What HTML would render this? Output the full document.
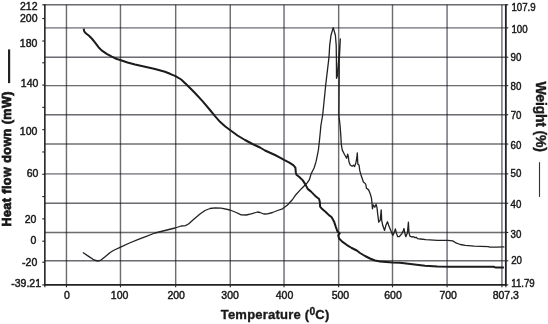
<!DOCTYPE html>
<html><head><meta charset="utf-8"><title>Chart</title>
<style>
html,body{margin:0;padding:0;background:#fff;}
svg{display:block;font-family:"Liberation Sans",Arial,sans-serif;}
</style></head><body>
<svg width="548" height="324" viewBox="0 0 548 324">
<defs><filter id="soft" x="0" y="0" width="548" height="324" filterUnits="userSpaceOnUse"><feGaussianBlur stdDeviation="0.38"/></filter></defs>
<rect x="0" y="0" width="548" height="324" fill="#fff"/>
<g filter="url(#soft)">
<line x1="66.46" y1="4.8" x2="66.46" y2="284.9" stroke="#101014" stroke-opacity="0.62" stroke-width="1.4"/>
<line x1="120.47" y1="4.8" x2="120.47" y2="284.9" stroke="#101014" stroke-opacity="0.62" stroke-width="1.4"/>
<line x1="175.67" y1="4.8" x2="175.67" y2="284.9" stroke="#101014" stroke-opacity="0.62" stroke-width="1.4"/>
<line x1="230.27" y1="4.8" x2="230.27" y2="284.9" stroke="#101014" stroke-opacity="0.62" stroke-width="1.4"/>
<line x1="284.00" y1="4.8" x2="284.00" y2="284.9" stroke="#101014" stroke-opacity="0.62" stroke-width="1.4"/>
<line x1="338.65" y1="4.8" x2="338.65" y2="284.9" stroke="#101014" stroke-opacity="0.62" stroke-width="1.4"/>
<line x1="392.50" y1="4.8" x2="392.50" y2="284.9" stroke="#101014" stroke-opacity="0.62" stroke-width="1.4"/>
<line x1="447.10" y1="4.8" x2="447.10" y2="284.9" stroke="#101014" stroke-opacity="0.62" stroke-width="1.4"/>
<line x1="501.90" y1="4.8" x2="501.90" y2="284.9" stroke="#101014" stroke-opacity="0.62" stroke-width="1.4"/>
<line x1="44.85" y1="27.83" x2="505.85" y2="27.83" stroke="#101014" stroke-opacity="0.62" stroke-width="1.4"/>
<line x1="44.85" y1="57.2" x2="505.85" y2="57.2" stroke="#101014" stroke-opacity="0.62" stroke-width="1.4"/>
<line x1="44.85" y1="85.65" x2="505.85" y2="85.65" stroke="#101014" stroke-opacity="0.62" stroke-width="1.4"/>
<line x1="44.85" y1="114.74" x2="505.85" y2="114.74" stroke="#101014" stroke-opacity="0.62" stroke-width="1.4"/>
<line x1="44.85" y1="144.05" x2="505.85" y2="144.05" stroke="#101014" stroke-opacity="0.62" stroke-width="1.4"/>
<line x1="44.85" y1="173.9" x2="505.85" y2="173.9" stroke="#101014" stroke-opacity="0.62" stroke-width="1.4"/>
<line x1="44.85" y1="203.26" x2="505.85" y2="203.26" stroke="#101014" stroke-opacity="0.62" stroke-width="1.4"/>
<line x1="44.85" y1="232.44" x2="505.85" y2="232.44" stroke="#101014" stroke-opacity="0.62" stroke-width="1.4"/>
<line x1="44.85" y1="260.8" x2="505.85" y2="260.8" stroke="#101014" stroke-opacity="0.62" stroke-width="1.4"/>
<line x1="44.85" y1="4.8" x2="505.85" y2="4.8" stroke="#101014" stroke-opacity="0.62" stroke-width="1.4"/>
<line x1="44.85" y1="4.3" x2="44.85" y2="285.59999999999997" stroke="#222" stroke-width="1.6"/>
<line x1="505.85" y1="4.3" x2="505.85" y2="285.59999999999997" stroke="#222" stroke-width="1.8"/>
<line x1="44.15" y1="284.9" x2="506.55" y2="284.9" stroke="#222" stroke-width="1.6"/>
<line x1="42.25" y1="4.80" x2="44.85" y2="4.80" stroke="#222" stroke-width="1.1"/>
<line x1="42.25" y1="18.50" x2="44.85" y2="18.50" stroke="#222" stroke-width="1.1"/>
<line x1="42.25" y1="41.00" x2="44.85" y2="41.00" stroke="#222" stroke-width="1.1"/>
<line x1="42.25" y1="62.78" x2="44.85" y2="62.78" stroke="#222" stroke-width="1.1"/>
<line x1="42.25" y1="85.08" x2="44.85" y2="85.08" stroke="#222" stroke-width="1.1"/>
<line x1="42.25" y1="107.38" x2="44.85" y2="107.38" stroke="#222" stroke-width="1.1"/>
<line x1="42.25" y1="129.68" x2="44.85" y2="129.68" stroke="#222" stroke-width="1.1"/>
<line x1="42.25" y1="151.98" x2="44.85" y2="151.98" stroke="#222" stroke-width="1.1"/>
<line x1="42.25" y1="174.28" x2="44.85" y2="174.28" stroke="#222" stroke-width="1.1"/>
<line x1="42.25" y1="196.58" x2="44.85" y2="196.58" stroke="#222" stroke-width="1.1"/>
<line x1="42.25" y1="218.88" x2="44.85" y2="218.88" stroke="#222" stroke-width="1.1"/>
<line x1="42.25" y1="241.18" x2="44.85" y2="241.18" stroke="#222" stroke-width="1.1"/>
<line x1="42.25" y1="262.20" x2="44.85" y2="262.20" stroke="#222" stroke-width="1.1"/>
<line x1="42.25" y1="284.90" x2="44.85" y2="284.90" stroke="#222" stroke-width="1.1"/>
<line x1="505.85" y1="4.80" x2="508.25" y2="4.80" stroke="#222" stroke-width="1.1"/>
<line x1="505.85" y1="27.83" x2="508.25" y2="27.83" stroke="#222" stroke-width="1.1"/>
<line x1="505.85" y1="57.20" x2="508.25" y2="57.20" stroke="#222" stroke-width="1.1"/>
<line x1="505.85" y1="85.65" x2="508.25" y2="85.65" stroke="#222" stroke-width="1.1"/>
<line x1="505.85" y1="114.74" x2="508.25" y2="114.74" stroke="#222" stroke-width="1.1"/>
<line x1="505.85" y1="144.05" x2="508.25" y2="144.05" stroke="#222" stroke-width="1.1"/>
<line x1="505.85" y1="173.90" x2="508.25" y2="173.90" stroke="#222" stroke-width="1.1"/>
<line x1="505.85" y1="203.26" x2="508.25" y2="203.26" stroke="#222" stroke-width="1.1"/>
<line x1="505.85" y1="232.44" x2="508.25" y2="232.44" stroke="#222" stroke-width="1.1"/>
<line x1="505.85" y1="260.80" x2="508.25" y2="260.80" stroke="#222" stroke-width="1.1"/>
<line x1="505.85" y1="284.90" x2="508.25" y2="284.90" stroke="#222" stroke-width="1.1"/>
<line x1="66.46" y1="284.9" x2="66.46" y2="287.29999999999995" stroke="#222" stroke-width="1.1"/>
<line x1="120.47" y1="284.9" x2="120.47" y2="287.29999999999995" stroke="#222" stroke-width="1.1"/>
<line x1="175.67" y1="284.9" x2="175.67" y2="287.29999999999995" stroke="#222" stroke-width="1.1"/>
<line x1="230.27" y1="284.9" x2="230.27" y2="287.29999999999995" stroke="#222" stroke-width="1.1"/>
<line x1="284.00" y1="284.9" x2="284.00" y2="287.29999999999995" stroke="#222" stroke-width="1.1"/>
<line x1="338.65" y1="284.9" x2="338.65" y2="287.29999999999995" stroke="#222" stroke-width="1.1"/>
<line x1="392.50" y1="284.9" x2="392.50" y2="287.29999999999995" stroke="#222" stroke-width="1.1"/>
<line x1="447.10" y1="284.9" x2="447.10" y2="287.29999999999995" stroke="#222" stroke-width="1.1"/>
<line x1="501.90" y1="284.9" x2="501.90" y2="287.29999999999995" stroke="#222" stroke-width="1.1"/>
<line x1="44.85" y1="284.9" x2="44.85" y2="287.29999999999995" stroke="#222" stroke-width="1.1"/>
<line x1="505.85" y1="284.9" x2="505.85" y2="287.29999999999995" stroke="#222" stroke-width="1.1"/>
<polyline points="83.3,252.8 89.0,256.6 94.1,260.0 97.8,261.0 101.0,260.1 105.4,256.6 110.5,252.2 114.3,250.0 120.6,247.1 129.5,243.0 139.0,239.1 145.0,236.8 155.0,233.0 165.0,230.5 175.0,228.0 181.2,226.0 185.5,225.6 188.8,223.8 193.8,219.2 200.0,214.0 205.0,210.5 210.0,208.5 215.0,207.8 221.2,208.2 230.0,210.0 236.2,212.5 241.2,214.8 246.2,215.0 251.2,213.8 257.5,212.0 260.0,212.5 263.8,214.0 267.5,213.8 272.5,212.5 277.5,210.5 282.5,208.8 287.5,205.0 292.5,199.5 295.0,195.8 300.0,190.1 303.4,186.7 307.2,182.9 309.4,179.7 311.0,174.1 312.3,171.5 314.2,167.7 316.1,161.4 317.3,155.7 318.4,150.0 319.3,142.0 320.5,130.0 320.8,126.0 322.7,115.0 325.7,85.0 329.0,57.2 329.7,45.3 331.0,35.2 333.2,27.6 335.4,35.2 336.2,45.3 336.4,58.0 336.5,78.3 337.3,76.0 340.3,38.9 339.3,60.0 338.9,115.0 340.1,126.0 340.8,135.2 341.3,144.5 342.3,150.1 344.5,154.5 346.6,158.3 347.7,154.1 348.3,156.4 348.9,161.5 350.2,165.0 352.1,166.3 353.4,165.3 354.6,166.5 355.9,162.7 356.8,157.7 357.3,152.8 357.8,164.0 359.1,165.3 359.7,170.3 360.9,174.7 362.2,178.5 363.5,182.3 365.1,183.2 365.8,184.5 366.5,188.3 368.7,189.9 370.3,194.0 371.5,198.4 372.0,203.2 372.4,208.8 373.3,205.0 374.8,207.2 376.1,204.3 377.0,207.6 377.7,213.9 378.7,222.2 380.2,220.3 381.2,209.8 381.7,220.3 382.7,225.3 384.6,230.4 385.9,225.3 387.5,221.8 389.1,226.6 391.0,231.0 392.8,235.4 394.1,232.9 395.4,228.9 396.3,232.9 397.7,236.7 399.2,236.7 401.7,233.9 403.0,231.6 404.0,228.5 404.9,233.5 405.8,236.7 407.4,232.9 408.4,222.2 409.0,232.9 409.9,236.1 411.8,237.0 413.7,236.7 415.0,237.7 416.3,237.3 417.5,238.6 420.7,239.0 425.8,239.6 437.5,240.3 447.6,240.3 452.7,240.9 456.5,243.2 460.3,244.5 465.3,245.4 474.2,246.1 488.1,246.6 490.0,247.2 497.0,247.1 503.9,246.9" fill="none" stroke="#222" stroke-width="1.3" stroke-linejoin="round" stroke-linecap="round"/>
<polyline points="83.7,28.6 84.2,31.4 85.8,33.3 89.0,35.8 92.2,39.0 95.3,42.8 98.5,47.2 101.6,50.4 106.7,53.9 111.8,56.7 116.8,59.0 120.2,60.0 127.5,62.5 135.0,64.5 145.0,66.8 155.0,69.0 165.0,71.8 170.0,73.8 175.5,76.2 181.2,79.5 187.5,85.5 195.0,93.0 202.5,101.2 210.0,110.0 215.0,116.2 220.0,121.8 225.0,126.2 230.0,130.0 237.5,135.5 245.0,140.0 252.5,144.0 260.0,147.5 265.0,150.5 275.0,155.0 280.0,157.6 284.0,159.9 288.9,162.4 293.3,165.2 295.4,167.7 295.8,172.2 296.5,174.7 299.6,177.2 302.8,180.4 305.8,185.1 307.7,188.9 310.8,191.4 314.0,194.6 315.9,196.5 319.1,199.0 319.9,202.2 320.1,206.6 322.2,209.1 326.0,212.3 329.2,215.4 331.5,217.0 334.0,221.4 335.9,227.1 337.5,231.5 339.7,233.4 338.2,235.3 339.1,238.5 342.2,241.6 346.6,244.8 351.7,248.0 356.8,250.5 360.0,253.0 365.0,256.0 370.0,258.5 375.0,260.5 380.0,261.5 392.5,262.5 400.0,262.8 412.5,264.2 425.0,265.8 437.5,266.5 450.0,266.7 475.0,266.7 493.5,266.7 496.0,267.6 503.9,267.6" fill="none" stroke="#1a1a1a" stroke-width="2.0" stroke-linejoin="round" stroke-linecap="butt"/>
<line x1="9.1" y1="49.4" x2="9.1" y2="83.1" stroke="#222" stroke-width="2.2"/>
<line x1="539.5" y1="162.2" x2="539.5" y2="196.9" stroke="#333" stroke-width="1.1"/>
<text x="37.5" y="9.55" font-size="10.5" text-anchor="end" fill="#1a1a1a" stroke="#1a1a1a" stroke-width="0.45" >212</text>
<text x="37.5" y="21.85" font-size="10.5" text-anchor="end" fill="#1a1a1a" stroke="#1a1a1a" stroke-width="0.45" >200</text>
<text x="37.4" y="47.05" font-size="10.5" text-anchor="end" fill="#1a1a1a" stroke="#1a1a1a" stroke-width="0.45" >180</text>
<text x="38.4" y="87.45" font-size="10.5" text-anchor="end" fill="#1a1a1a" stroke="#1a1a1a" stroke-width="0.45" >140</text>
<text x="37.4" y="134.55" font-size="10.5" text-anchor="end" fill="#1a1a1a" stroke="#1a1a1a" stroke-width="0.45" >100</text>
<text x="38.4" y="176.55" font-size="10.5" text-anchor="end" fill="#1a1a1a" stroke="#1a1a1a" stroke-width="0.45" >60</text>
<text x="36.4" y="223.25" font-size="10.5" text-anchor="end" fill="#1a1a1a" stroke="#1a1a1a" stroke-width="0.45" >20</text>
<text x="36.4" y="243.65" font-size="10.5" text-anchor="end" fill="#1a1a1a" stroke="#1a1a1a" stroke-width="0.45" >0</text>
<text x="37.3" y="266.35" font-size="10.5" text-anchor="end" fill="#1a1a1a" stroke="#1a1a1a" stroke-width="0.45" >-20</text>
<text x="41" y="286.95" font-size="10.5" text-anchor="end" fill="#1a1a1a" stroke="#1a1a1a" stroke-width="0.45" >-39.21</text>
<text transform="translate(511.4,10.70) scale(0.925,1)" font-size="10.5" fill="#1a1a1a" stroke="#1a1a1a" stroke-width="0.45">107.9</text>
<text transform="translate(511.4,32.60) scale(0.925,1)" font-size="10.5" fill="#1a1a1a" stroke="#1a1a1a" stroke-width="0.45">100</text>
<text transform="translate(510.5,61.40) scale(0.925,1)" font-size="10.5" fill="#1a1a1a" stroke="#1a1a1a" stroke-width="0.45">90</text>
<text transform="translate(510.5,89.80) scale(0.925,1)" font-size="10.5" fill="#1a1a1a" stroke="#1a1a1a" stroke-width="0.45">80</text>
<text transform="translate(510.7,119.40) scale(0.925,1)" font-size="10.5" fill="#1a1a1a" stroke="#1a1a1a" stroke-width="0.45">70</text>
<text transform="translate(510.5,148.50) scale(0.925,1)" font-size="10.5" fill="#1a1a1a" stroke="#1a1a1a" stroke-width="0.45">60</text>
<text transform="translate(510.5,176.80) scale(0.925,1)" font-size="10.5" fill="#1a1a1a" stroke="#1a1a1a" stroke-width="0.45">50</text>
<text transform="translate(510.6,208.00) scale(0.925,1)" font-size="10.5" fill="#1a1a1a" stroke="#1a1a1a" stroke-width="0.45">40</text>
<text transform="translate(510.5,237.80) scale(0.925,1)" font-size="10.5" fill="#1a1a1a" stroke="#1a1a1a" stroke-width="0.45">30</text>
<text transform="translate(511.2,263.70) scale(0.925,1)" font-size="10.5" fill="#1a1a1a" stroke="#1a1a1a" stroke-width="0.45">20</text>
<text transform="translate(511.2,287.00) scale(0.925,1)" font-size="10.5" fill="#1a1a1a" stroke="#1a1a1a" stroke-width="0.45">11.79</text>
<text x="66.9" y="299.1" font-size="10.5" text-anchor="middle" fill="#1a1a1a" stroke="#1a1a1a" stroke-width="0.45" >0</text>
<text x="119.6" y="299.1" font-size="10.5" text-anchor="middle" fill="#1a1a1a" stroke="#1a1a1a" stroke-width="0.45" >100</text>
<text x="176.2" y="299.1" font-size="10.5" text-anchor="middle" fill="#1a1a1a" stroke="#1a1a1a" stroke-width="0.45" >200</text>
<text x="230.1" y="299.1" font-size="10.5" text-anchor="middle" fill="#1a1a1a" stroke="#1a1a1a" stroke-width="0.45" >300</text>
<text x="284.5" y="299.1" font-size="10.5" text-anchor="middle" fill="#1a1a1a" stroke="#1a1a1a" stroke-width="0.45" >400</text>
<text x="340.4" y="299.1" font-size="10.5" text-anchor="middle" fill="#1a1a1a" stroke="#1a1a1a" stroke-width="0.45" >500</text>
<text x="393" y="299.1" font-size="10.5" text-anchor="middle" fill="#1a1a1a" stroke="#1a1a1a" stroke-width="0.45" >600</text>
<text x="448.2" y="299.1" font-size="10.5" text-anchor="middle" fill="#1a1a1a" stroke="#1a1a1a" stroke-width="0.45" >700</text>
<text x="505.8" y="299.1" font-size="10.5" text-anchor="middle" fill="#1a1a1a" stroke="#1a1a1a" stroke-width="0.45" >807.3</text>
<text transform="translate(11.3,226.6) rotate(-90)" font-size="12.6" font-weight="bold" fill="#1a1a1a" stroke="#1a1a1a" stroke-width="0.75" textLength="135" lengthAdjust="spacing">Heat flow down (mW)</text>
<text transform="translate(536.2,81.6) rotate(90)" font-size="14" font-weight="bold" fill="#1a1a1a" stroke="#1a1a1a" stroke-width="0.4" textLength="70.3" lengthAdjust="spacing">Weight (%)</text>
<text x="220.7" y="319.1" font-size="13" font-weight="bold" fill="#1a1a1a" stroke="#1a1a1a" stroke-width="0.35" textLength="108.6" lengthAdjust="spacing">Temperature (<tspan font-size="10.3" dy="-3.8">0</tspan><tspan dy="3.8">C)</tspan></text>
</g>
</svg>
</body></html>
